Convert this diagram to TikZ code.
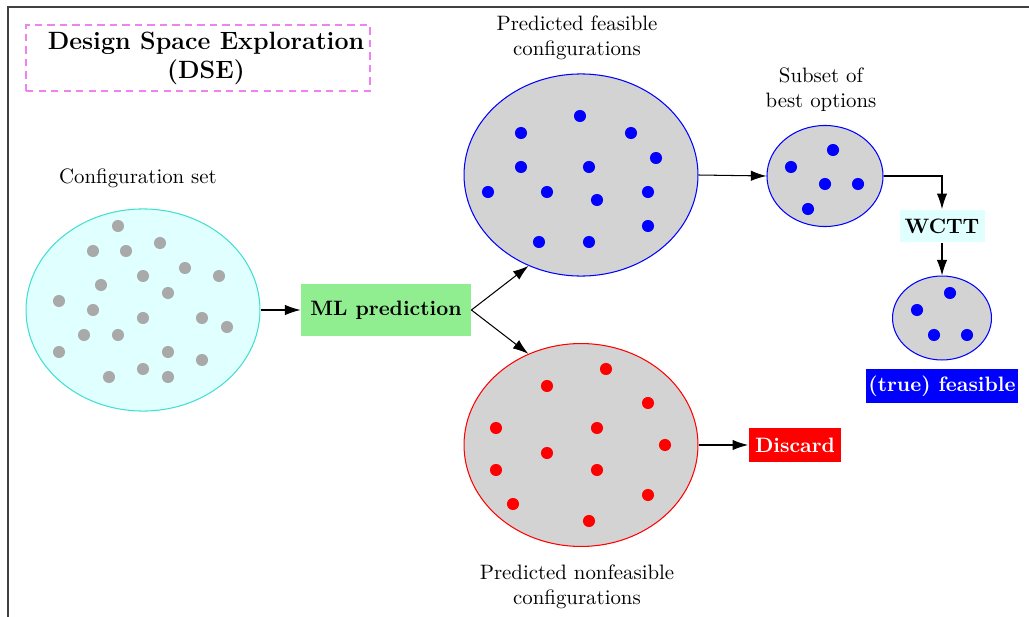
\documentclass[tikz,border=0pt]{standalone}
\usetikzlibrary{shapes.geometric,arrows.meta}
\definecolor{dotgray}{HTML}{A9A9A9}
\definecolor{setfill}{HTML}{E0FFFF}
\definecolor{setline}{HTML}{40E0D0}
\definecolor{bubble}{HTML}{D3D3D3}
\definecolor{mlgreen}{HTML}{90EE90}
\definecolor{titleviolet}{HTML}{EE82EE}
\tikzset{
  blob/.style={ellipse, inner sep=0pt, fill=bubble, line width=0.5pt},
  flow/.style={-{Latex[length=7.5pt,width=5pt]}, line width=0.5pt},
  tag/.style={rectangle, inner sep=0pt, font=\bfseries},
  caption/.style={align=center, inner sep=0pt},
}
\newcommand{\scatterdots}[2]{\foreach \p in {#2} \fill[#1] \p circle (2.9pt);}
\begin{document}
\begin{tikzpicture}[x=0.48pt,y=-0.48pt]
\useasboundingbox (0,0) rectangle (1029,617);
% outer frame, running off the right and bottom edges
\begin{scope}
  \clip (0,0) rectangle (1029,617);
  \draw[line width=0.8pt, black!75] (8,7) rectangle (1045,640);
\end{scope}

% title
\node[draw=titleviolet, dash pattern=on 3.5pt off 2.5pt, line width=1pt, minimum width=165pt, minimum height=31.7pt, inner sep=0pt] (titlebox) at (198,58) {};
\node[caption, font=\bfseries\large] (title) at (206,58) {Design Space Exploration\\(DSE)};

% configuration set
\node[ellipse, inner sep=0pt, draw=setline, fill=setfill, line width=0.5pt, minimum width=112.3pt, minimum height=97pt] (cfg) at (143,310) {};
\node[caption] (cfglbl) at (138,178) {Configuration set};
\scatterdots{dotgray}{(118,226),(93,251),(126,251),(160,243),(185,268),(219,276),(143,276),(101,285),(168,293),(59,301),(93,310),(143,318),(202,318),(227,327),(84,335),(118,335),(168,352),(59,352),(143,369),(202,360),(109,377),(168,377)}

% ML prediction
\node[tag, fill=mlgreen, minimum width=81.6pt, minimum height=24.5pt] (ml) at (386,310) {ML prediction};

% predicted feasible
\node[blob, draw=blue, minimum width=112.3pt, minimum height=97pt] (feas) at (581,175) {};
\node[caption] (feaslbl) at (577,38) {Predicted feasible\\configurations};
\scatterdots{blue}{(521,133),(580,116),(631,133),(656,158),(521,167),(589,167),(488,192),(547,192),(597,200),(648,192),(648,226),(539,242),(589,242)}

% predicted nonfeasible
\node[blob, draw=red, minimum width=112.3pt, minimum height=97.4pt] (nonf) at (581,445) {};
\node[caption] (nonflbl) at (577,587) {Predicted nonfeasible\\configurations};
\scatterdots{red}{(547,386),(606,369),(648,403),(496,428),(597,428),(665,445),(547,453),(496,470),(597,470),(648,495),(513,504),(589,521)}

% subset of best options
\node[blob, draw=blue, minimum width=55.7pt, minimum height=48.5pt] (best) at (825,176) {};
\node[caption] (bestlbl) at (821,90) {Subset of\\best options};
\scatterdots{blue}{(791,167),(833,150),(825,184),(858,184),(808,209)}

% WCTT and the truly feasible set
\node[tag, fill=setfill, minimum width=40.8pt, minimum height=15.8pt] (wctt) at (942,226) {WCTT};
\node[blob, draw=blue, minimum width=47.5pt, minimum height=40.3pt] (truef) at (942,318) {};
\scatterdots{blue}{(950,293),(917,310),(934,335),(967,335)}
\node[tag, fill=blue, text=white, minimum width=72.5pt, minimum height=16.3pt] (truelbl) at (942,386) {(true) feasible};

% discard
\node[tag, fill=red, text=white, minimum width=44.6pt, minimum height=16.3pt] (discard) at (795,445) {Discard};

% connectors
\draw[flow] (cfg.east) -- (ml.west);
\draw[flow] (ml.east) -- (feas.240);
\draw[flow] (ml.east) -- (nonf.120);
\draw[flow] (feas.east) -- (best.west);
\draw[flow] (best.east) -| (wctt.north);
\draw[flow] (wctt.south) -- (truef.north);
\draw[flow] (nonf.east) -- (discard.west);
\end{tikzpicture}
\end{document}
